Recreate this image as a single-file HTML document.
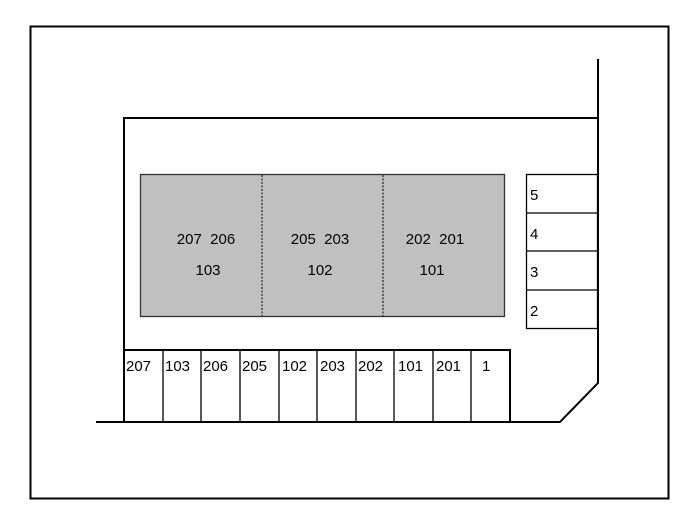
<!DOCTYPE html>
<html><head><style>body{margin:0;background:#fff}</style></head><body>
<svg width="700" height="525" xmlns="http://www.w3.org/2000/svg" font-family="Liberation Sans, sans-serif" font-size="15" fill="#000">
<rect x="0" y="0" width="700" height="525" fill="#fff"/>
<rect x="30.5" y="26.5" width="638" height="472" fill="none" stroke="#000" stroke-width="2"/>
<g stroke="#000" stroke-width="2" fill="none">
<polyline points="124,422 124,118 598,118"/>
<polyline points="598,59 598,383 560,422 510,422"/>
<line x1="96" y1="422" x2="124" y2="422"/>
<rect x="124" y="350" width="386" height="72"/>
<line x1="163" y1="350" x2="163" y2="422" stroke-width="1.3"/>
<line x1="201" y1="350" x2="201" y2="422" stroke-width="1.3"/>
<line x1="240" y1="350" x2="240" y2="422" stroke-width="1.3"/>
<line x1="279" y1="350" x2="279" y2="422" stroke-width="1.3"/>
<line x1="317" y1="350" x2="317" y2="422" stroke-width="1.3"/>
<line x1="356" y1="350" x2="356" y2="422" stroke-width="1.3"/>
<line x1="394" y1="350" x2="394" y2="422" stroke-width="1.3"/>
<line x1="433" y1="350" x2="433" y2="422" stroke-width="1.3"/>
<line x1="471" y1="350" x2="471" y2="422" stroke-width="1.3"/>
<rect x="526.5" y="174.5" width="71" height="154" stroke-width="1.3"/>
<line x1="526" y1="213" x2="598" y2="213" stroke-width="1.3"/>
<line x1="526" y1="251" x2="598" y2="251" stroke-width="1.3"/>
<line x1="526" y1="290" x2="598" y2="290" stroke-width="1.3"/>
</g>
<rect x="140.5" y="174.5" width="364" height="142" fill="#c0c0c0" stroke="#333" stroke-width="1.3"/>
<g stroke="#222" stroke-width="1.2" stroke-dasharray="2,1.5">
<line x1="262" y1="175" x2="262" y2="316"/>
<line x1="383" y1="175" x2="383" y2="316"/>
</g>
<g text-anchor="middle">
<text x="206" y="244">207&#160;&#160;206</text><text x="208" y="275">103</text>
<text x="320" y="244">205&#160;&#160;203</text><text x="320" y="275">102</text>
<text x="435" y="244">202&#160;&#160;201</text><text x="432" y="275">101</text>
</g>
<g>
<text x="126" y="371">207</text><text x="165" y="371">103</text><text x="203" y="371">206</text>
<text x="242" y="371">205</text><text x="282" y="371">102</text><text x="320" y="371">203</text>
<text x="358" y="371">202</text><text x="398" y="371">101</text><text x="436" y="371">201</text>
<text x="482" y="371">1</text>
<text x="530" y="200">5</text><text x="530" y="239">4</text><text x="530" y="277">3</text><text x="530" y="316">2</text>
</g>
</svg>
</body></html>
